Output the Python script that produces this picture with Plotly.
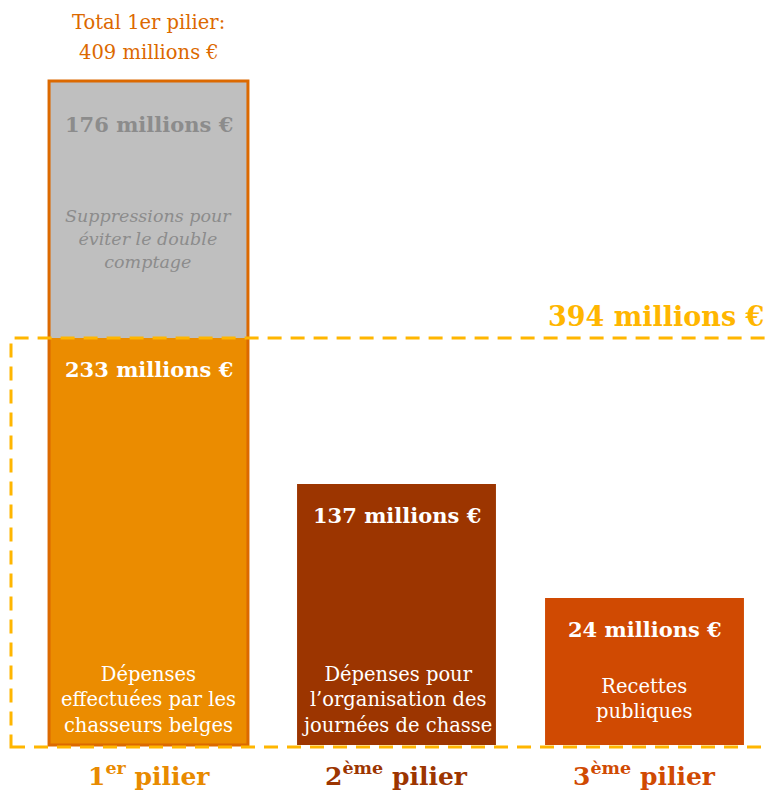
import plotly.graph_objects as go

# categories and values (millions €)
piliers = ["1er pilier", "2ème pilier", "3ème pilier"]
pilier_labels = ["1<sup>er</sup> pilier", "2<sup>ème</sup> pilier", "3<sup>ème</sup> pilier"]
values = [233, 137, 24]
suppressions = 176
total_1er = 409
total_all = 394

# drawn heights (the bars are not to scale)
bar_heights = [407, 261, 147]
supp_height = 257

descriptions = [
    "Dépenses<br>effectuées par les<br>chasseurs belges",
    "Dépenses pour<br>l’organisation des<br>journées de chasse",
    "Recettes<br>publiques",
]
desc_shift = [6, 6, 20]
supp_text = "<i>Suppressions pour<br>éviter le double<br>comptage</i>"

bar_colors = ["#EB8C00", "#9C3500", "#D04A02"]
label_colors = ["#E88A00", "#9C3500", "#D04A02"]
outline = "#DC6900"
gold = "#FFB600"
grey = "#BFBFBF"
FONT = "DejaVu Serif"

x = [0, 1, 2]
bw = 0.802

fig = go.Figure()
fig.add_trace(go.Bar(x=x, y=bar_heights, width=bw, marker=dict(color=bar_colors, line=dict(width=0)),
                     hoverinfo="skip"))
fig.add_trace(go.Bar(x=[0], y=[supp_height], base=[bar_heights[0]], width=bw,
                     marker=dict(color=grey, line=dict(width=0)), hoverinfo="skip"))

# outline around the whole 1st pillar
fig.add_shape(type="rect", x0=x[0] - bw / 2, x1=x[0] + bw / 2, y0=0, y1=bar_heights[0] + supp_height,
              line=dict(color=outline, width=3), layer="above")

# dashed frame at 394
fig.add_shape(type="rect", xref="paper", x0=11 / 766, x1=1.05, y0=-2, y1=bar_heights[0],
              line=dict(color=gold, width=3, dash="14px,9px"), layer="above")

# value labels
for i in range(3):
    fig.add_annotation(x=x[i], y=bar_heights[i], text=f"<b>{values[i]} millions €</b>", showarrow=False,
                       yanchor="middle", yshift=-31, font=dict(family=FONT, size=21, color="white"))
    fig.add_annotation(x=x[i], y=0, text=descriptions[i], showarrow=False, yanchor="bottom",
                       yshift=desc_shift[i], font=dict(family=FONT, size=19.5, color="white"))
    fig.add_annotation(x=x[i], y=0, text=f"<b>{pilier_labels[i]}</b>", showarrow=False, yanchor="top",
                       yshift=-11, font=dict(family=FONT, size=25, color=label_colors[i]))

top1 = bar_heights[0] + supp_height
fig.add_annotation(x=x[0], y=top1, text=f"<b>{suppressions} millions €</b>", showarrow=False,
                   yanchor="middle", yshift=-43, font=dict(family=FONT, size=21, color="#8C8C8C"))
fig.add_annotation(x=x[0], y=top1, text=supp_text, showarrow=False, yanchor="top", yshift=-123,
                   font=dict(family=FONT, size=17.5, color="#8C8C8C"))
fig.add_annotation(x=x[0], y=top1, text="Total 1er pilier:", showarrow=False,
                   yanchor="middle", yshift=59, font=dict(family=FONT, size=19.5, color=outline))
fig.add_annotation(x=x[0], y=top1, text=f"{total_1er} millions €", showarrow=False,
                   yanchor="middle", yshift=29, font=dict(family=FONT, size=19.5, color=outline))
fig.add_annotation(xref="paper", x=1, xanchor="right", y=bar_heights[0], yanchor="bottom", yshift=4,
                   text=f"<b>{total_all} millions €</b>", showarrow=False,
                   font=dict(family=FONT, size=27, color=gold))

fig.update_xaxes(range=[-148.5 / 248, (766 - 148.5) / 248], visible=False)
fig.update_yaxes(range=[-45, 745], visible=False)
fig.update_layout(
    width=766, height=790, margin=dict(l=0, r=0, t=0, b=0),
    plot_bgcolor="white", paper_bgcolor="white", showlegend=False, barmode="overlay",
)

fig.write_html("out.html", config={"displayModeBar": False},
               post_script="document.body.style.margin='0';document.body.style.overflow='hidden';")
